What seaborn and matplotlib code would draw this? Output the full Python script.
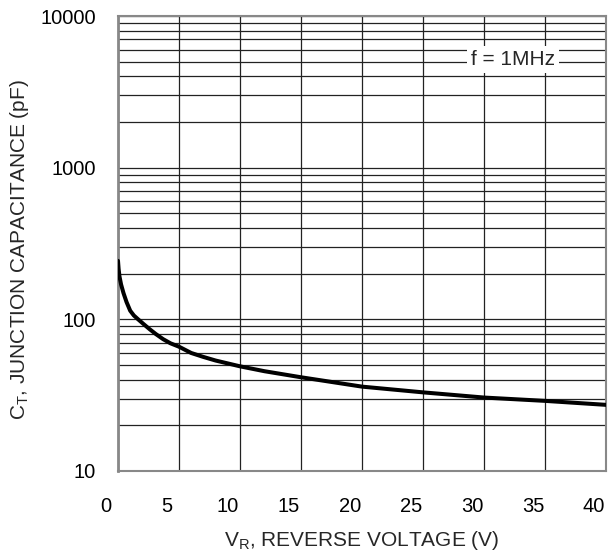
import numpy as np
import pandas as pd
import matplotlib
matplotlib.use("Agg")
import matplotlib.pyplot as plt
import matplotlib.transforms as mtransforms
from matplotlib.ticker import FixedLocator, NullFormatter
import seaborn as sns

# Data
voltage = [0, 0.05, 0.12, 0.25, 0.45, 0.7, 1.0, 1.3, 1.65, 2.1, 2.6, 3.1, 3.7, 4.3, 5, 6, 7, 8,
           10, 12, 15, 20, 25, 30, 35, 40]
capacitance = [243, 215, 192, 170, 149, 130, 114, 106, 100, 93, 86, 80, 74, 69.5, 66, 60, 56.5, 53.5,
               49, 45.5, 41.5, 36, 33, 30.5, 29, 27.3]
x_ticks = [0, 5, 10, 15, 20, 25, 30, 35, 40]
y_ticks = [10, 100, 1000, 10000]
y_tick_labels = ["10", "100", "1000", "10000"]

sns.set_style("white")
plt.rcParams['font.family'] = ['Liberation Sans', 'DejaVu Sans']
plt.rcParams['mathtext.fontset'] = 'custom'
plt.rcParams['mathtext.rm'] = 'Liberation Sans'
plt.rcParams['mathtext.it'] = 'Liberation Sans'

df = pd.DataFrame({"V": voltage, "C": capacitance})

fig = plt.figure(figsize=(6.08, 5.54), dpi=100)
ax = fig.add_axes([118/608, 1 - 471/554, (606 - 118)/608, (471 - 16)/554])

sns.lineplot(data=df, x="V", y="C", ax=ax, color="black", linewidth=2.9, zorder=5)

ax.set_yscale("log")
ax.set_xlim(0, 40)
ax.set_ylim(10, 10000)

ax.xaxis.set_major_locator(FixedLocator(x_ticks))
ax.set_xticklabels([str(t) for t in x_ticks])
ax.yaxis.set_major_locator(FixedLocator(y_ticks))
ax.set_yticklabels(y_tick_labels)
minor = [m * 10**d for d in range(1, 4) for m in range(2, 10)]
ax.yaxis.set_minor_locator(FixedLocator(minor))
ax.yaxis.set_minor_formatter(NullFormatter())

ax.grid(True, which="both", axis="y", color="#222222", linewidth=0.9)
ax.grid(True, which="major", axis="x", color="#222222", linewidth=0.9)
ax.set_axisbelow(True)

ax.tick_params(axis="both", which="both", length=0, labelsize=14.5, colors="black")
ax.tick_params(axis="y", pad=16)
ax.tick_params(axis="x", pad=19)

# shift x tick labels left as in the reference
offset = mtransforms.ScaledTranslation(-12/100, 0, fig.dpi_scale_trans)
for lbl in ax.get_xticklabels():
    lbl.set_transform(lbl.get_transform() + offset)

for s in ax.spines.values():
    s.set_color("#888888")
    s.set_linewidth(1.5)
ax.spines["left"].set_linewidth(2.0)

ax.set_xlabel(r"V$_\mathregular{R}$, REVERSE VOLTAGE (V)", fontsize=15)
ax.set_ylabel(r"C$_\mathregular{T}$, JUNCTION CAPACITANCE (pF)", fontsize=15)
ax.xaxis.set_label_coords(0.5, (471 - 540) / 455)
ax.xaxis.label.set_va("center")
ax.yaxis.set_label_coords((20 - 118) / 488, (471 - 250) / 455)
ax.yaxis.label.set_va("center")

ax.text(0.81, 0.905, "f = 1MHz", transform=ax.transAxes, fontsize=15,
        ha="center", va="center", zorder=6,
        bbox=dict(facecolor="white", edgecolor="none", pad=3))

fig.savefig("out.png", dpi=100)
